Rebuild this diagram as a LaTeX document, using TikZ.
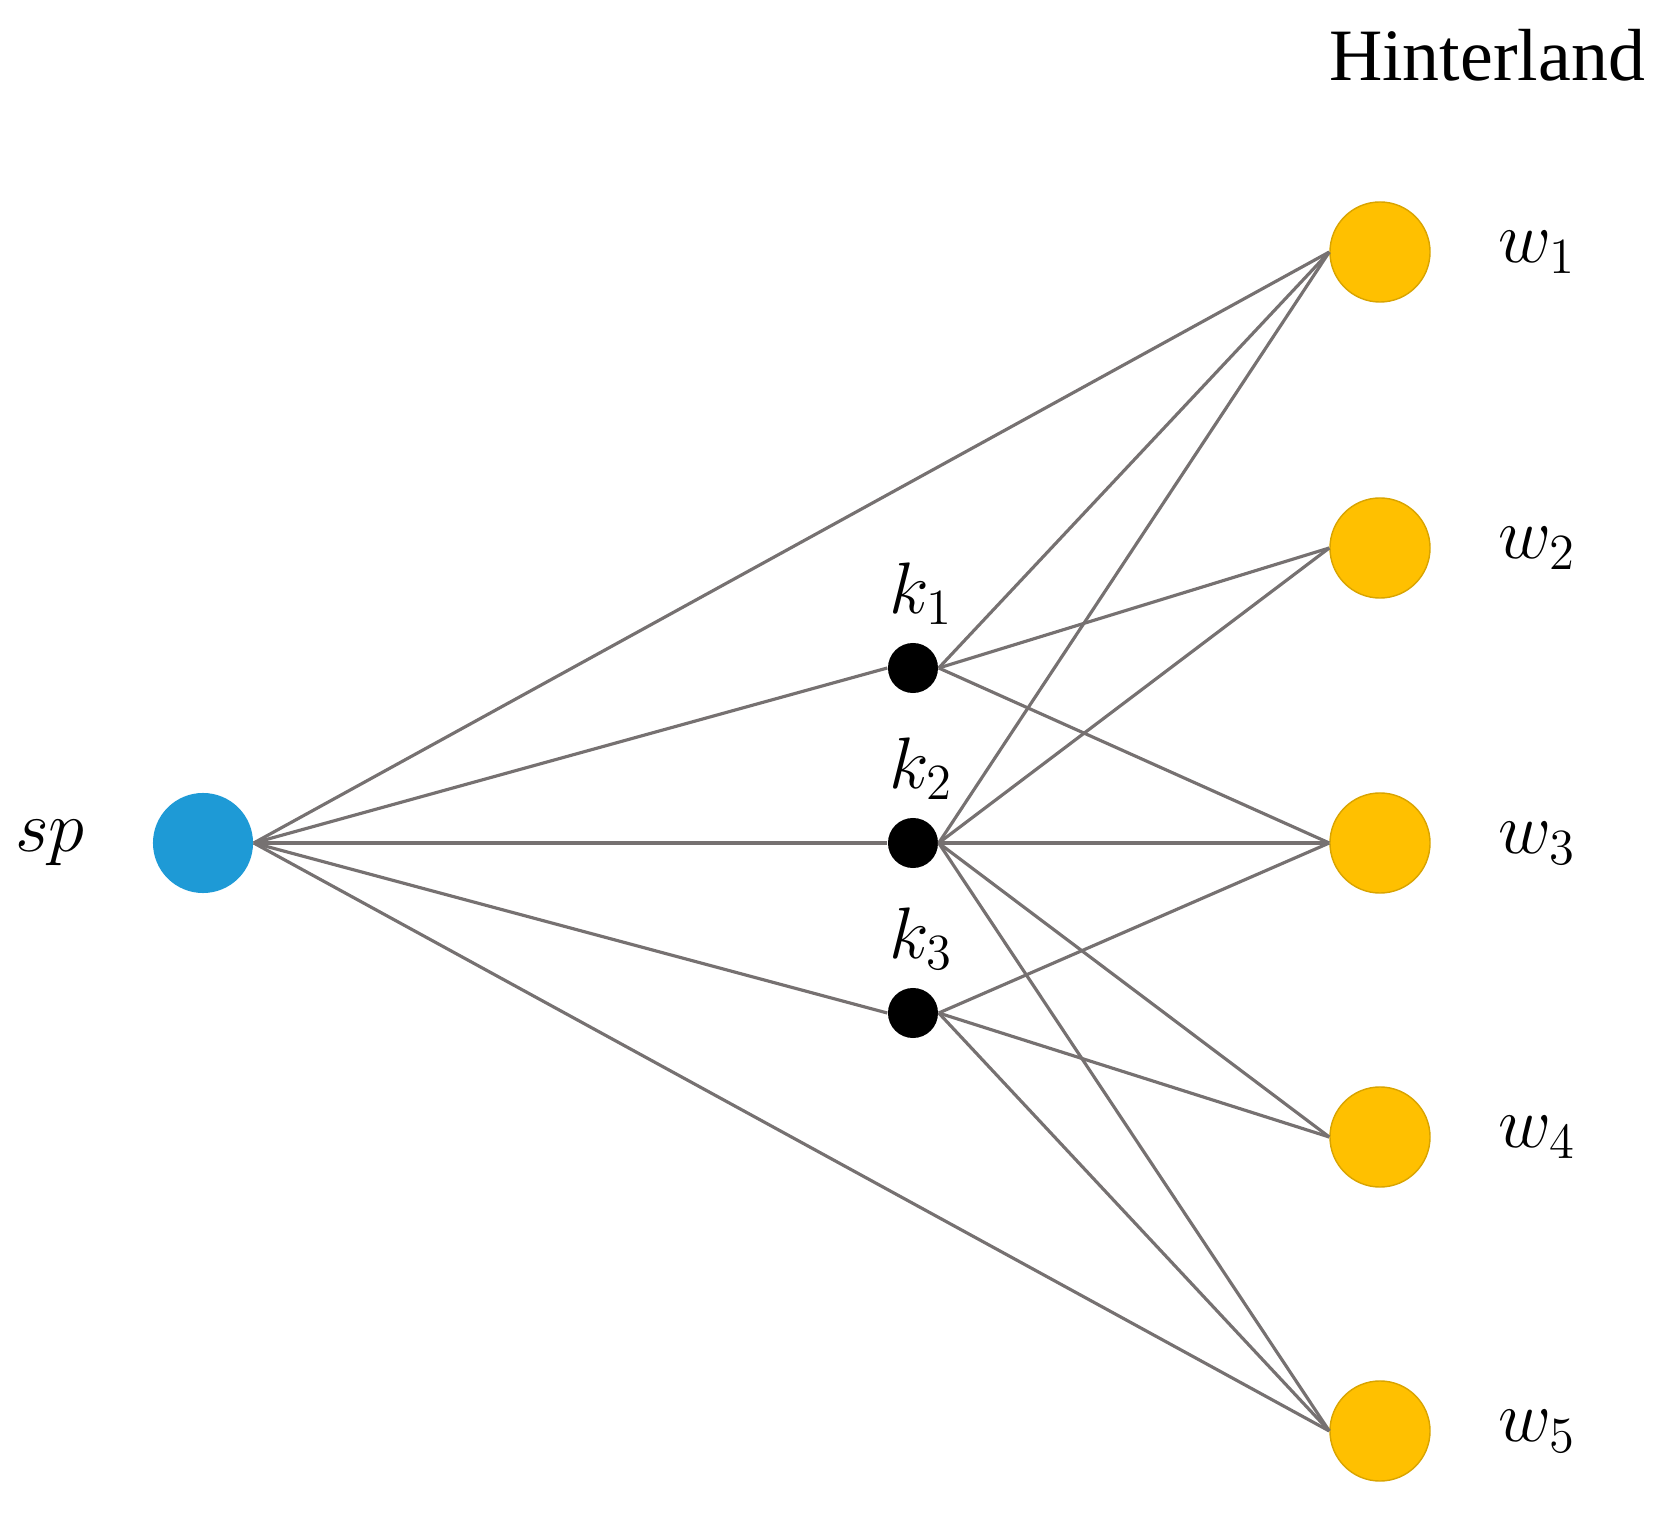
\documentclass[tikz,border=0pt]{standalone}
\usepackage{fontspec}
\setmainfont{Liberation Serif}
\usepackage{tikz}
\usetikzlibrary{positioning}
\definecolor{spblue}{HTML}{1E9AD6}
\definecolor{wgold}{HTML}{FFC000}
\definecolor{wrim}{HTML}{D9A400}
\definecolor{edgegray}{HTML}{767171}
\tikzset{%
  port/.style   = {circle, fill=spblue, minimum size=1cm, inner sep=0pt}, % start
  hub/.style    = {circle, fill=black, minimum size=0.5cm, inner sep=0pt},
  dest/.style   = {circle, fill=wgold, draw=wrim, thin, minimum size=1cm, inner sep=0pt},
  lab/.style    = {font=\fontsize{20}{24}\selectfont},
  link/.style   = {draw=edgegray, line width=0.9pt}
}
\begin{document}
\begin{tikzpicture}[x=0.01cm, y=-0.01cm]
  \useasboundingbox (0,0) rectangle (1660,1525);

  \node at (203,843) [port] (sp) {};
  \node at (913,668) [hub] (k1) {};
  \node at (913,843) [hub] (k2) {};
  \node at (913,1013) [hub] (k3) {};
  \foreach \i/\y in {1/252,2/548,3/843,4/1137,5/1431}
    \node at (1380,\y) [dest] (w\i) {};

  \node [lab, left=0.55cm of sp] {$sp$};
  \node [lab, above=0.05cm of k1, xshift=0.08cm] {$k_1$};
  \node [lab, above=0.05cm of k2, xshift=0.08cm] {$k_2$};
  \node [lab, above=0.05cm of k3, xshift=0.08cm] {$k_3$};
  \foreach \i in {1,...,5}
    \node [lab, right=0.55cm of w\i] {$w_\i$};
  \node [lab, font=\fontsize{21}{25}\selectfont] at (1487,55) {Hinterland};

  % port to hubs and outer warehouses
  \foreach \t in {w1,k1,k2,k3,w5}
    \draw[link] (sp.east) -- (\t.west);
  % hubs to warehouses
  \foreach \t in {w1,w2,w3}
    \draw[link] (k1.east) -- (\t.west);
  \foreach \t in {w1,w2,w3,w4,w5}
    \draw[link] (k2.east) -- (\t.west);
  \foreach \t in {w3,w4,w5}
    \draw[link] (k3.east) -- (\t.west);
\end{tikzpicture}
\end{document}
